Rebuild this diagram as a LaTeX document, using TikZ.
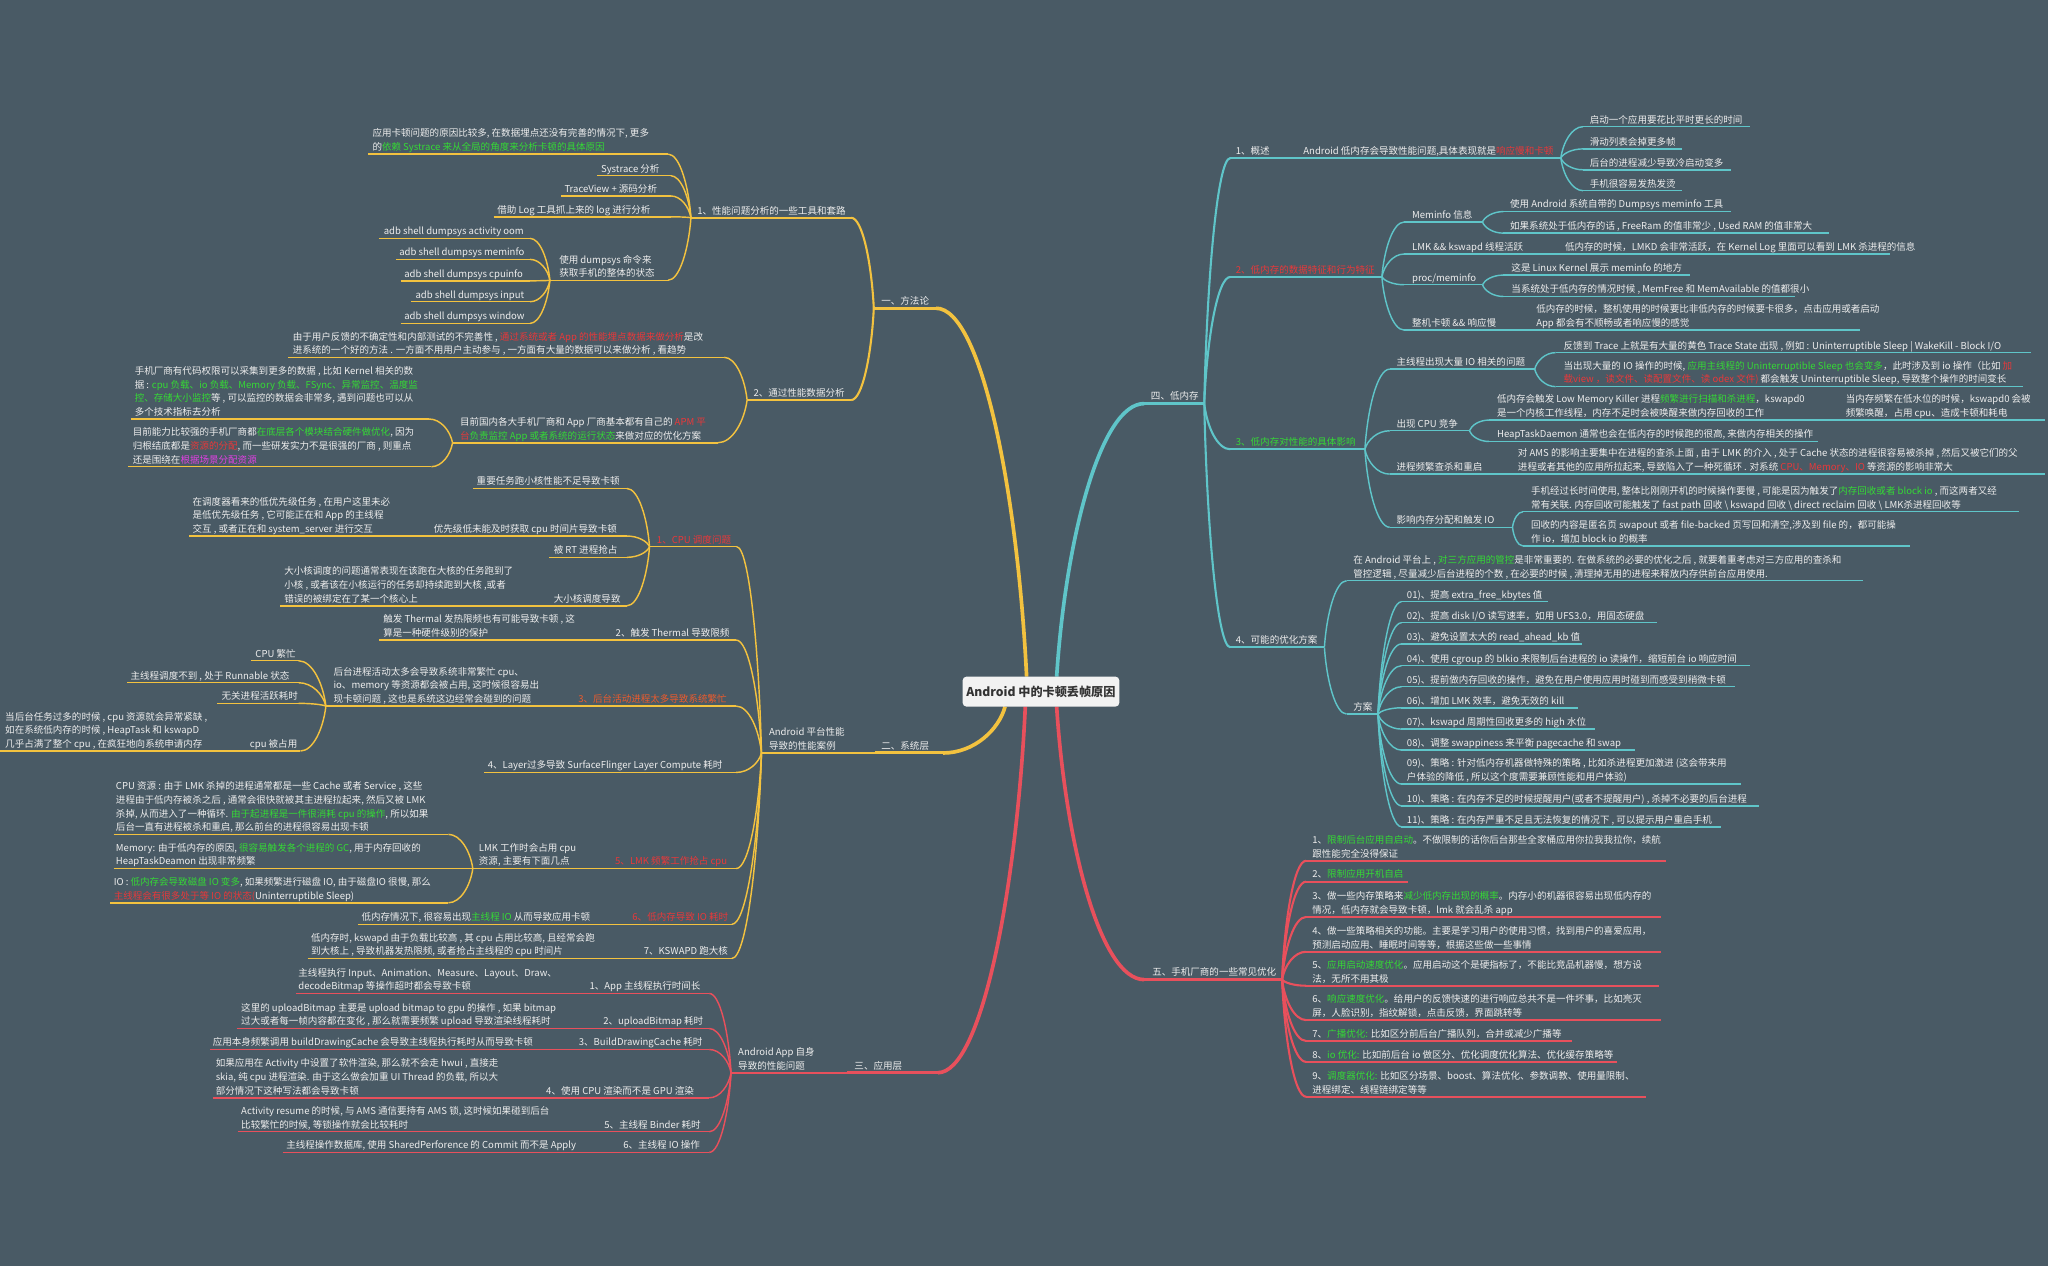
\documentclass[tikz,border=0pt]{standalone}
\usepackage{fontspec}
\setmainfont{Noto Sans CJK SC}
\usetikzlibrary{calc}
\definecolor{bg}{HTML}{495A65}
\definecolor{cY}{HTML}{F3C23F}
\definecolor{cT}{HTML}{5FC5C9}
\definecolor{cR}{HTML}{E8505C}
\definecolor{tw}{HTML}{EDEDED}
\definecolor{tg}{HTML}{35D935}
\definecolor{tr}{HTML}{E8383A}
\definecolor{tor}{HTML}{EE5A2C}
\definecolor{tm}{HTML}{E040E3}
\newcommand\gtx[1]{\textcolor{tg}{#1}}
\newcommand\rtx[1]{\textcolor{tr}{#1}}
\newcommand\mtx[1]{\textcolor{tm}{#1}}
\newcommand\mmul[5]{\draw[#5] (#2,#4) coordinate (#1-l) -- (#3,#4) coordinate (#1-r);}
\newcommand\mmtx[4]{\node[txt] (#1) at (#2,#3-0.8) {#4};}
\newcommand\mmnd[7]{\mmul{#1}{#3}{#4}{#5}{#2}\mmtx{#1}{#6}{#5}{#7}}
\newcommand\mmcn[3]{\draw[#1] let \p1=(#2), \p2=(#3) in (\p1) .. controls ({\x1+0.1*(\x2-\x1)},{\y1+0.5*(\y2-\y1)}) and ({\x1+0.5*(\x2-\x1)},{\y2}) .. (\p2);}
\tikzset{
  txt/.style={anchor=south west, inner sep=0pt, align=left, text depth=1.8pt, text=tw, font=\fontsize{7.3}{10.4}\selectfont},
  Y0/.style={draw=cY, line width=2.8pt}, Y1/.style={draw=cY, line width=2.3pt}, Y2/.style={draw=cY, line width=1.6pt}, Y3/.style={draw=cY, line width=1.1pt},
  T0/.style={draw=cT, line width=2.8pt}, T1/.style={draw=cT, line width=2.3pt}, T2/.style={draw=cT, line width=1.6pt}, T3/.style={draw=cT, line width=1.1pt},
  R0/.style={draw=cR, line width=2.8pt}, R1/.style={draw=cR, line width=2.3pt}, R2/.style={draw=cR, line width=1.6pt}, R3/.style={draw=cR, line width=1.1pt},
  rootbox/.style={fill=white!95!black, rounded corners=3pt, minimum width=120pt, minimum height=23pt, inner sep=0pt, text=black!80, font=\bfseries\fontsize{9.3}{11}\selectfont}
}
\begin{document}
\begin{tikzpicture}[x=1pt,y=-1pt]
\fill[bg] (0,0) rectangle (1568,969);
\useasboundingbox (0,0) rectangle (1568,969);
% root anchor points
\coordinate (rc) at (797,529.5);
\coordinate (rt1) at (786,518);
\coordinate (rt2) at (809,518);
\coordinate (rb1) at (769.5,541);
\coordinate (rb2) at (785,541);
\coordinate (rb3) at (809,541);

% ===== 一、方法论 =====
\mmnd{fl}{Y1}{669}{716.7}{236}{674.6}{一、方法论}
\mmcn{Y0}{rt1}{fl-r}
\mmnd{t1}{Y2}{529}{651.6}{166.7}{533.7}{1、性能问题分析的一些工具和套路}
\mmcn{Y2}{fl-l}{t1-r}
\mmnd{t1a}{Y3}{282}{511.6}{118}{285}{应用卡顿问题的原因比较多, 在数据埋点还没有完善的情况下, 更多\\的\gtx{依赖 Systrace 来从全局的角度来分析卡顿的具体原因}}
\mmcn{Y3}{t1-l}{t1a-r}
\mmnd{t1b}{Y3}{457}{513.5}{134.5}{460}{Systrace 分析}
\mmcn{Y3}{t1-l}{t1b-r}
\mmnd{t1c}{Y3}{429.7}{513.5}{150}{432}{TraceView + 源码分析}
\mmcn{Y3}{t1-l}{t1c-r}
\mmnd{t1d}{Y3}{378}{513.5}{166}{380.6}{借助 Log 工具抓上来的 log 进行分析}
\mmcn{Y3}{t1-l}{t1d-r}
\mmnd{t1e}{Y3}{421}{511.5}{214.6}{428}{使用 dumpsys 命令来\\获取手机的整体的状态}
\mmcn{Y3}{t1-l}{t1e-r}
\mmnd{d1}{Y3}{290}{405.8}{182.5}{293.7}{adb shell dumpsys activity oom}
\mmcn{Y3}{t1e-l}{d1-r}
\mmnd{d2}{Y3}{303}{405.8}{198.6}{305.5}{adb shell dumpsys meminfo}
\mmcn{Y3}{t1e-l}{d2-r}
\mmnd{d3}{Y3}{306.7}{405.8}{215}{309.4}{adb shell dumpsys cpuinfo}
\mmcn{Y3}{t1e-l}{d3-r}
\mmnd{d4}{Y3}{315}{405.8}{231}{318}{adb shell dumpsys input}
\mmcn{Y3}{t1e-l}{d4-r}
\mmnd{d5}{Y3}{306.7}{405.8}{247.6}{309.4}{adb shell dumpsys window}
\mmcn{Y3}{t1e-l}{d5-r}

\mmnd{t2}{Y2}{572}{651.6}{306.3}{576.7}{2、通过性能数据分析}
\mmcn{Y2}{fl-l}{t2-r}
\mmnd{t2a}{Y3}{220.5}{554.5}{273.6}{224}{由于用户反馈的不确定性和内部测试的不完善性 , \rtx{通过系统或者 App 的性能埋点数据来做分析}是改\\进系统的一个好的方法 . 一方面不用用户主动参与 , 一方面有大量的数据可以来做分析 , 看趋势}
\mmcn{Y3}{t2-l}{t2a-r}
\mmnd{t2b}{Y3}{346.5}{549.5}{339}{352}{目前国内各大手机厂商和 App 厂商基本都有自己的 \rtx{APM 平}\\\rtx{台}\gtx{负责监控 App 或者系统的运行状态}来做对应的优化方案}
\mmcn{Y3}{t2-l}{t2b-r}
\mmnd{t2b1}{Y3}{100}{328.5}{320.8}{103}{手机厂商有代码权限可以采集到更多的数据 , 比如 Kernel 相关的数\\据 : \gtx{cpu 负载、io 负载、Memory 负载、FSync、异常监控、温度监}\\\gtx{控、存储大小监控}等 , 可以监控的数据会非常多, 遇到问题也可以从\\多个技术指标去分析}
\mmcn{Y3}{t2b-l}{t2b1-r}
\mmnd{t2b2}{Y3}{98.3}{330.3}{357.3}{101.5}{目前能力比较强的手机厂商都\gtx{在底层各个模块结合硬件做优化}, 因为\\归根结底都是\rtx{资源的分配}, 而一些研发实力不是很强的厂商 , 则重点\\还是围绕在\mtx{根据场景分配资源}}
\mmcn{Y3}{t2b-l}{t2b2-r}

% ===== 二、系统层 =====
\mmnd{sy}{Y1}{670}{722}{576.5}{674.6}{二、系统层}
\mmcn{Y0}{rb1}{sy-r}
\mmnd{ap}{Y2}{583}{652}{576.5}{588.6}{Android 平台性能\\导致的性能案例}
\mmcn{Y2}{sy-l}{ap-r}

\mmnd{c1}{Y3}{497.3}{564}{418.6}{502.8}{\rtx{1、CPU 调度问题}}
\mmcn{Y3}{ap-l}{c1-r}
\mmnd{c1a}{Y3}{362}{480}{374}{364.8}{重要任务跑小核性能不足导致卡顿}
\mmcn{Y3}{c1-l}{c1a-r}
\mmnd{c1b}{Y3}{327}{480}{410.4}{332}{优先级低未能及时获取 cpu 时间片导致卡顿}
\mmcn{Y3}{c1-l}{c1b-r}
\mmnd{c1b1}{Y3}{145}{327}{410.4}{147.3}{在调度器看来的低优先级任务 , 在用户这里未必\\是低优先级任务 , 它可能正在和 App 的主线程\\交互 , 或者正在和 system\_server 进行交互}
\mmnd{c1c}{Y3}{420.5}{480}{426.7}{423.8}{被 RT 进程抢占}
\mmcn{Y3}{c1-l}{c1c-r}
\mmnd{c1d}{Y3}{420}{480}{463.8}{423.8}{大小核调度导致}
\mmcn{Y3}{c1-l}{c1d-r}
\mmnd{c1d1}{Y3}{214.4}{420}{463.8}{217.5}{大小核调度的问题通常表现在该跑在大核的任务跑到了\\小核 , 或者该在小核运行的任务却持续跑到大核 ,或者\\错误的被绑定在了某一个核心上}

\mmnd{c2}{Y3}{465}{563.6}{490}{471.2}{2、触发 Thermal 导致限频}
\mmcn{Y3}{ap-l}{c2-r}
\mmnd{c2a}{Y3}{290.3}{465}{490}{293.3}{触发 Thermal 发热限频也有可能导致卡顿 , 这\\算是一种硬件级别的保护}

\mmnd{c3}{Y3}{437}{563.6}{540.6}{442.6}{\textcolor{tor}{3、后台活动进程太多导致系统繁忙}}
\mmcn{Y3}{ap-l}{c3-r}
\mmnd{c3a}{Y3}{249.5}{437}{540.6}{255.2}{后台进程活动太多会导致系统非常繁忙 cpu、\\io、memory 等资源都会被占用, 这时候很容易出\\现卡顿问题 , 这也是系统这边经常会碰到的问题}
\mmnd{c3a1}{Y3}{192.3}{228.6}{505.9}{195.4}{CPU 繁忙}
\mmcn{Y3}{c3a-l}{c3a1-r}
\mmnd{c3a2}{Y3}{97.1}{228.6}{522.7}{99.8}{主线程调度不到 , 处于 Runnable 状态}
\mmcn{Y3}{c3a-l}{c3a2-r}
\mmnd{c3a3}{Y3}{166.5}{228.6}{538.5}{169.5}{无关进程活跃耗时}
\mmcn{Y3}{c3a-l}{c3a3-r}
\mmnd{c3a4}{Y3}{188.5}{230}{575}{191.2}{cpu 被占用}
\mmcn{Y3}{c3a-l}{c3a4-r}
\mmnd{c3a4a}{Y3}{0}{188.5}{575}{3.8}{当后台任务过多的时候 , cpu 资源就会异常紧缺 ,\\如在系统低内存的时候 , HeapTask 和 kswapD\\几乎占满了整个 cpu , 在疯狂地向系统申请内存}

\mmnd{c4}{Y3}{370.6}{563.6}{591.4}{373.3}{4、Layer过多导致 SurfaceFlinger Layer Compute 耗时}
\mmcn{Y3}{ap-l}{c4-r}

\mmnd{c5}{Y3}{465}{563.6}{665}{470.8}{\rtx{5、LMK 频繁工作抢占 cpu}}
\mmcn{Y3}{ap-l}{c5-r}
\mmnd{c5a}{Y3}{362}{465}{665}{366.5}{LMK 工作时会占用 cpu\\资源, 主要有下面几点}
\mmnd{c5a1}{Y3}{86.9}{343.3}{638.8}{88.6}{CPU 资源 : 由于 LMK 杀掉的进程通常都是一些 Cache 或者 Service , 这些\\进程由于低内存被杀之后 , 通常会很快就被其主进程拉起来, 然后又被 LMK\\杀掉, 从而进入了一种循环. \gtx{由于起进程是一件很消耗 cpu 的操作}, 所以如果\\后台一直有进程被杀和重启, 那么前台的进程很容易出现卡顿}
\mmcn{Y3}{c5a-l}{c5a1-r}
\mmnd{c5a2}{Y3}{86.9}{343.3}{665}{88.6}{Memory: 由于低内存的原因, \gtx{很容易触发各个进程的 GC}, 用于内存回收的\\HeapTaskDeamon 出现非常频繁}
\mmcn{Y3}{c5a-l}{c5a2-r}
\mmnd{c5a3}{Y3}{84.5}{343.3}{691.2}{86.9}{IO : \gtx{低内存会导致磁盘 IO 变多}, 如果频繁进行磁盘 IO, 由于磁盘IO 很慢, 那么\\\rtx{主线程会有很多处于等 IO 的状态(}Uninterruptible Sleep)}
\mmcn{Y3}{c5a-l}{c5a3-r}

\mmnd{c6}{Y3}{478}{560.3}{707.7}{484}{\rtx{6、低内存导致 IO 耗时}}
\mmcn{Y3}{ap-l}{c6-r}
\mmnd{c6a}{Y3}{273.9}{478}{707.7}{276.6}{低内存情况下, 很容易出现\gtx{主线程 IO} 从而导致应用卡顿}
\mmnd{c7}{Y3}{490}{560.3}{733.8}{492.7}{7、KSWAPD 跑大核}
\mmcn{Y3}{ap-l}{c7-r}
\mmnd{c7a}{Y3}{235.6}{490}{733.8}{238}{低内存时, kswapd 由于负载比较高 , 其 cpu 占用比较高, 且经常会跑\\到大核上 , 导致机器发热限频, 或者抢占主线程的 cpu 时间片}

% ===== 三、应用层 =====
\mmnd{al}{R1}{648.8}{718}{821.3}{654}{三、应用层}
\mmcn{R0}{rb2}{al-r}
\mmnd{aa}{R2}{559.7}{645.5}{821.3}{565}{Android App 自身\\导致的性能问题}
\mmcn{R2}{al-l}{aa-r}
\mmnd{a1}{R3}{448}{543}{760.6}{451.2}{1、App 主线程执行时间长}
\mmcn{R3}{aa-l}{a1-r}
\mmnd{a1a}{R3}{226.6}{448}{760.6}{228.3}{主线程执行 Input、Animation、Measure、Layout、Draw、\\decodeBitmap 等操作超时都会导致卡顿}
\mmnd{a2}{R3}{458}{543}{787.4}{461.7}{2、uploadBitmap 耗时}
\mmcn{R3}{aa-l}{a2-r}
\mmnd{a2a}{R3}{181.2}{458}{787.4}{184.5}{这里的 uploadBitmap 主要是 upload bitmap to gpu 的操作 , 如果 bitmap\\过大或者每一帧内容都在变化 , 那么就需要频繁 upload 导致渲染线程耗时}
\mmnd{a3}{R3}{438}{543}{803.5}{443}{3、BuildDrawingCache 耗时}
\mmcn{R3}{aa-l}{a3-r}
\mmnd{a3a}{R3}{160.7}{438}{803.5}{162.7}{应用本身频繁调用 buildDrawingCache 会导致主线程执行耗时从而导致卡顿}
\mmnd{a4}{R3}{415}{543}{840.5}{418}{4、使用 CPU 渲染而不是 GPU 渲染}
\mmcn{R3}{aa-l}{a4-r}
\mmnd{a4a}{R3}{162.7}{415}{840.5}{165}{如果应用在 Activity 中设置了软件渲染, 那么就不会走 hwui , 直接走\\skia, 纯 cpu 进程渲染. 由于这么做会加重 UI Thread 的负载, 所以大\\部分情况下这种写法都会导致卡顿}
\mmnd{a5}{R3}{456}{543}{866.5}{462.5}{5、主线程 Binder 耗时}
\mmcn{R3}{aa-l}{a5-r}
\mmnd{a5a}{R3}{182.2}{456}{866.5}{184.5}{Activity resume 的时候, 与 AMS 通信要持有 AMS 锁, 这时候如果碰到后台\\比较繁忙的时候, 等锁操作就会比较耗时}
\mmnd{a6}{R3}{476}{543}{882.3}{477}{6、主线程 IO 操作}
\mmcn{R3}{aa-l}{a6-r}
\mmnd{a6a}{R3}{216.4}{476}{882.3}{219}{主线程操作数据库, 使用 SharedPerforence 的 Commit 而不是 Apply}

% ===== 四、低内存 =====
\mmnd{lm}{T1}{876}{922}{309}{881}{四、低内存}
\mmcn{T0}{rt2}{lm-l}
\mmnd{ov}{T2}{942}{973}{121}{946}{1、概述}
\mmcn{T2}{lm-r}{ov-l}
\mmnd{ova}{T3}{973}{1195}{121}{997.7}{Android 低内存会导致性能问题,具体表现就是\rtx{响应慢和卡顿}}
\mmnd{ov1}{T3}{1212}{1340}{97}{1217}{启动一个应用要花比平时更长的时间}
\mmcn{T3}{ova-r}{ov1-l}
\mmnd{ov2}{T3}{1212}{1288}{114}{1217}{滑动列表会掉更多帧}
\mmcn{T3}{ova-r}{ov2-l}
\mmnd{ov3}{T3}{1212}{1325}{130}{1217}{后台的进程减少导致冷启动变多}
\mmcn{T3}{ova-r}{ov3-l}
\mmnd{ov4}{T3}{1212}{1288}{146}{1217}{手机很容易发热发烫}
\mmcn{T3}{ova-r}{ov4-l}

\mmnd{ft}{T2}{942}{1058}{212}{946}{\rtx{2、低内存的数据特征和行为特征}}
\mmcn{T2}{lm-r}{ft-l}
\mmnd{mi}{T3}{1075}{1135}{170}{1081}{Meminfo 信息}
\mmcn{T3}{ft-r}{mi-l}
\mmnd{mi1}{T3}{1151}{1325}{162}{1156}{使用 Android 系统自带的 Dumpsys meminfo 工具}
\mmcn{T3}{mi-r}{mi1-l}
\mmnd{mi2}{T3}{1151}{1400}{178.5}{1156}{如果系统处于低内存的话 , FreeRam 的值非常少 , Used RAM 的值非常大}
\mmcn{T3}{mi-r}{mi2-l}
\mmnd{lk}{T3}{1075}{1185}{194.5}{1081}{LMK \&\& kswapd 线程活跃}
\mmcn{T3}{ft-r}{lk-l}
\mmnd{lk1}{T3}{1185}{1447}{194.5}{1198}{低内存的时候，LMKD 会非常活跃，在 Kernel Log 里面可以看到 LMK 杀进程的信息}
\mmnd{pm}{T3}{1075}{1135}{218}{1081}{proc/meminfo}
\mmcn{T3}{ft-r}{pm-l}
\mmnd{pm1}{T3}{1151}{1294}{210.6}{1157}{这是 Linux Kernel 展示 meminfo 的地方}
\mmcn{T3}{pm-r}{pm1-l}
\mmnd{pm2}{T3}{1151}{1374}{227}{1157}{当系统处于低内存的情况时候 , MemFree 和 MemAvailable 的值都很小}
\mmcn{T3}{pm-r}{pm2-l}
\mmnd{zj}{T3}{1075}{1165}{252.7}{1081}{整机卡顿 \&\& 响应慢}
\mmcn{T3}{ft-r}{zj-l}
\mmnd{zj1}{T3}{1165}{1424}{252.7}{1176}{低内存的时候，整机使用的时候要比非低内存的时候要卡很多，点击应用或者启动\\App 都会有不顺畅或者响应慢的感觉}

\mmnd{im}{T2}{942}{1045}{344}{946}{\gtx{3、低内存对性能的具体影响}}
\mmcn{T2}{lm-r}{im-l}
\mmnd{io}{T3}{1064}{1175}{282.6}{1069}{主线程出现大量 IO 相关的问题}
\mmcn{T3}{im-r}{io-l}
\mmnd{io1}{T3}{1191}{1555}{270}{1197}{反馈到 Trace 上就是有大量的黄色 Trace State 出现 , 例如 : Uninterruptible Sleep | WakeKill - Block I/O}
\mmcn{T3}{io-r}{io1-l}
\mmnd{io2}{T3}{1191}{1549}{296}{1197}{当出现大量的 IO 操作的时候, \gtx{应用主线程的 Uninterruptible Sleep 也会变多}，此时涉及到 io 操作（比如 \rtx{加}\\\rtx{载view ，读文件、读配置文件、读 odex 文件)} 都会触发 Uninterruptible Sleep, 导致整个操作的时间变长}
\mmcn{T3}{io-r}{io2-l}
\mmnd{cp}{T3}{1064}{1125}{329.8}{1069}{出现 CPU 竞争}
\mmcn{T3}{im-r}{cp-l}
\mmnd{cp1}{T3}{1140}{1405}{321.6}{1146}{低内存会触发 Low Memory Killer 进程\gtx{频繁进行扫描和杀进程}，kswapd0\\是一个内核工作线程，内存不足时会被唤醒来做内存回收的工作}
\mmcn{T3}{cp-r}{cp1-l}
\mmnd{cp1a}{T3}{1405}{1566}{321.6}{1413}{当内存频繁在低水位的时候，kswapd0 会被\\频繁唤醒，占用 cpu、造成卡顿和耗电}
\mmnd{cp2}{T3}{1140}{1392}{338}{1146}{HeapTaskDaemon 通常也会在低内存的时候跑的很高, 来做内存相关的操作}
\mmcn{T3}{cp-r}{cp2-l}
\mmnd{am}{T3}{1064}{1150}{363}{1069}{进程频繁查杀和重启}
\mmcn{T3}{im-r}{am-l}
\mmnd{am1}{T3}{1150}{1566}{363}{1162}{对 AMS 的影响主要集中在进程的查杀上面 , 由于 LMK 的介入 , 处于 Cache 状态的进程很容易被杀掉 , 然后又被它们的父\\进程或者其他的应用所拉起来, 导致陷入了一种死循环 . 对系统 \rtx{CPU、Memory、IO} 等资源的影响非常大}
\mmnd{mm}{T3}{1064}{1158}{403.7}{1069}{影响内存分配和触发 IO}
\mmcn{T3}{im-r}{mm-l}
\mmnd{mm1}{T3}{1166}{1546}{391.8}{1172}{手机经过长时间使用, 整体比刚刚开机的时候操作要慢 , 可能是因为触发了\gtx{内存回收或者 block io} , 而这两者又经\\常有关联.  内存回收可能触发了 fast path 回收 \textbackslash{} kswapd 回收 \textbackslash{} direct reclaim 回收 \textbackslash{} LMK杀进程回收等}
\mmcn{T3}{mm-r}{mm1-l}
\mmnd{mm2}{T3}{1166}{1462}{418}{1172}{回收的内容是匿名页 swapout 或者 file-backed 页写回和清空,涉及到 file 的，都可能操\\作 io，增加 block io 的概率}
\mmcn{T3}{mm-r}{mm2-l}

\mmnd{op}{T2}{942}{1014}{495.6}{946}{4、可能的优化方案}
\mmcn{T2}{lm-r}{op-l}
\mmnd{op1}{T3}{1031}{1426}{444.6}{1036}{在 Android 平台上 , \gtx{对三方应用的管控}是非常重要的. 在做系统的必要的优化之后 , 就要着重考虑对三方应用的查杀和\\管控逻辑 , 尽量减少后台进程的个数 , 在必要的时候 , 清理掉无用的进程来释放内存供前台应用使用.}
\mmcn{T3}{op-r}{op1-l}
\mmnd{fa}{T3}{1031}{1055}{546.7}{1036}{方案}
\mmcn{T3}{op-r}{fa-l}
\mmnd{f01}{T3}{1073}{1185}{460.7}{1077}{01)、提高 extra\_free\_kbytes 值}
\mmcn{T3}{fa-r}{f01-l}
\mmnd{f02}{T3}{1073}{1269}{476.8}{1077}{02)、提高 disk I/O 读写速率，如用 UFS3.0，用固态硬盘}
\mmcn{T3}{fa-r}{f02-l}
\mmnd{f03}{T3}{1073}{1211}{493}{1077}{03)、避免设置太大的 read\_ahead\_kb 值}
\mmcn{T3}{fa-r}{f03-l}
\mmnd{f04}{T3}{1073}{1340}{509.7}{1077}{04)、使用 cgroup 的 blkio 来限制后台进程的 io 读操作，缩短前台 io 响应时间}
\mmcn{T3}{fa-r}{f04-l}
\mmnd{f05}{T3}{1073}{1328}{525.8}{1077}{05)、提前做内存回收的操作，避免在用户使用应用时碰到而感受到稍微卡顿}
\mmcn{T3}{fa-r}{f05-l}
\mmnd{f06}{T3}{1073}{1208}{541.9}{1077}{06)、增加 LMK 效率，避免无效的 kill}
\mmcn{T3}{fa-r}{f06-l}
\mmnd{f07}{T3}{1073}{1221}{558.2}{1077}{07)、kswapd 周期性回收更多的 high 水位}
\mmcn{T3}{fa-r}{f07-l}
\mmnd{f08}{T3}{1073}{1252}{574.3}{1077}{08)、调整 swappiness 来平衡 pagecache 和 swap}
\mmcn{T3}{fa-r}{f08-l}
\mmnd{f09}{T3}{1073}{1333}{600.3}{1077}{09)、策略 : 针对低内存机器做特殊的策略 , 比如杀进程更加激进 (这会带来用\\户体验的降低 , 所以这个度需要兼顾性能和用户体验)}
\mmcn{T3}{fa-r}{f09-l}
\mmnd{f10}{T3}{1073}{1347}{617}{1077}{10)、策略 : 在内存不足的时候提醒用户(或者不提醒用户) , 杀掉不必要的后台进程}
\mmcn{T3}{fa-r}{f10-l}
\mmnd{f11}{T3}{1073}{1318}{633}{1077}{11)、策略 : 在内存严重不足且无法恢复的情况下 , 可以提示用户重启手机}
\mmcn{T3}{fa-r}{f11-l}

% ===== 五、手机厂商的一些常见优化 =====
\mmnd{vo}{R1}{876}{981.6}{750}{882}{五、手机厂商的一些常见优化}
\mmcn{R0}{rb3}{vo-l}
\mmnd{v1}{R2}{1000}{1275.6}{659}{1004.6}{1、\gtx{限制后台应用自启动}。不做限制的话你后台那些全家桶应用你拉我我拉你，续航\\跟性能完全没得保证}
\mmcn{R2}{vo-r}{v1-l}
\mmnd{v2}{R2}{1000}{1078}{675}{1004.6}{2、\gtx{限制应用开机自启}}
\mmcn{R2}{vo-r}{v2-l}
\mmnd{v3}{R2}{1000}{1272}{702}{1004.6}{3、做一些内存策略来\gtx{减少低内存出现的概率}。内存小的机器很容易出现低内存的\\情况，低内存就会导致卡顿，lmk 就会乱杀 app}
\mmcn{R2}{vo-r}{v3-l}
\mmnd{v4}{R2}{1000}{1272}{728.7}{1004.6}{4、做一些策略相关的功能。主要是学习用户的使用习惯，找到用户的喜爱应用，\\预测启动应用、睡眠时间等等，根据这些做一些事情}
\mmcn{R2}{vo-r}{v4-l}
\mmnd{v5}{R2}{1000}{1270}{754.7}{1004.6}{5、\gtx{应用启动速度优化}。应用启动这个是硬指标了，不能比竞品机器慢，想方设\\法，无所不用其极}
\mmcn{R2}{vo-r}{v5-l}
\mmnd{v6}{R2}{1000}{1272}{781}{1004.6}{6、\gtx{响应速度优化}。给用户的反馈快速的进行响应总共不是一件坏事，比如亮灭\\屏，人脸识别，指纹解锁，点击反馈，界面跳转等}
\mmcn{R2}{vo-r}{v6-l}
\mmnd{v7}{R2}{1000}{1203.6}{797}{1004.6}{7、\gtx{广播优化:} 比如区分前后台广播队列，合并或减少广播等}
\mmcn{R2}{vo-r}{v7-l}
\mmnd{v8}{R2}{1000}{1238}{813}{1004.6}{8、\gtx{io 优化:} 比如前后台 io 做区分、优化调度优化算法、优化缓存策略等}
\mmcn{R2}{vo-r}{v8-l}
\mmnd{v9}{R2}{1000}{1260}{839.7}{1004.6}{9、\gtx{调度器优化:} 比如区分场景、boost、算法优化、参数调教、使用量限制、\\进程绑定、线程链绑定等等}
\mmcn{R2}{vo-r}{v9-l}

% root on top
\node[rootbox] (root) at (rc) {Android 中的卡顿丢帧原因};
\end{tikzpicture}
\end{document}
